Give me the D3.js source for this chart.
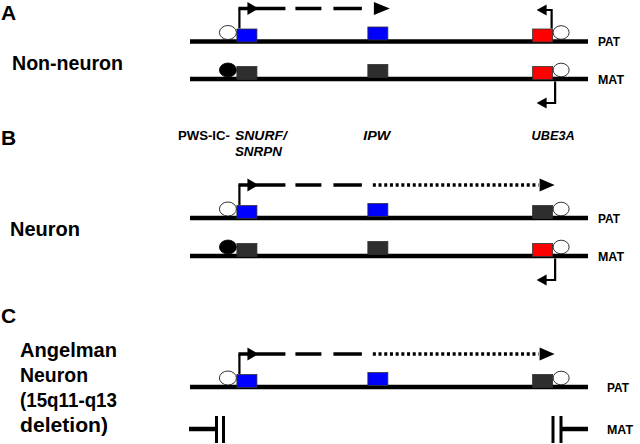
<!DOCTYPE html>
<html><head><meta charset="utf-8">
<script src="https://cdn.jsdelivr.net/npm/d3@7"></script>
<style>body{margin:0;background:#fff} svg{display:block}</style>
</head><body><svg id="c" width="640" height="444"></svg>
<script>
// ---------- data ----------
const panelIds = ["A", "B", "C"];
const panelTitles = [["Non-neuron"], ["Neuron"], ["Angelman", "Neuron", "(15q11-q13", "deletion)"]];
const alleles = ["PAT", "MAT"];
const genes = ["SNURF/SNRPN", "IPW", "UBE3A"];
const geneLocus = [14.3, 47.2, 88.6];            // relative position along region (%)
const geneLabels = ["SNURF/", "IPW", "UBE3A"];
// expression state per gene: 1 expressed, 0 silent ; null = allele deleted
const patExpression = [[1, 1, 1], [1, 1, 0], [1, 1, 0]];
const matExpression = [[0, 0, 1], [0, 0, 1], null];
// PWS-IC methylation: 1 methylated (filled), 0 unmethylated (open)
const patIcMethyl = [0, 0, 0];
const matIcMethyl = [1, 1, null];
// SNURF transcript extent
const snurfTranscriptEnd = ["IPW", "UBE3A", "UBE3A"];
// UBE3A sense transcript present
const patUbeTranscript = [1, 0, 0];
const matUbeTranscript = [1, 1, null];

// ---------- layout ----------
const svg = d3.select("#c");
const x = d3.scaleLinear().domain([0, 100]).range([190, 588]);
const rowY = d3.scaleOrdinal()
  .domain(["A-PAT", "A-MAT", "B-PAT", "B-MAT", "C-PAT", "C-MAT"])
  .range([41.5, 79, 218, 256, 387, 429]);
const letterY = d3.scaleOrdinal().domain(panelIds).range([20, 145, 323]);
const titleLayout = { A: { x: 12, y: 70 }, B: { x: 10, y: 236 }, C: { x: 20, y: 357 } };
const titleWidths = [[111], [70], [97, 68, 97, 88]];
const alleleLabelX = d3.scaleOrdinal().domain(panelIds).range([598, 598, 607]);
const alleleLabelW = { PAT: 22, MAT: 26 };
const expressedColor = ["#0000ff", "#0000ff", "#ff0000"];
const silentColor = "#2e2e2e";
const FONT = "'Liberation Sans', Arial, Helvetica, sans-serif";
const boxW = 20, boxH = 13;

function arrowHead(g, tipX, y, dir, len, half) {
  const b = tipX - dir * len;
  g.append("path")
    .attr("d", `M${tipX},${y}L${b},${y - half}L${b},${y + half}Z`)
    .attr("fill", "#000");
}
function fit(sel, w) {
  return sel.attr("textLength", w).attr("lengthAdjust", "spacingAndGlyphs");
}

// panel letters
svg.selectAll("text.letter").data(panelIds).join("text")
  .attr("class", "letter")
  .attr("x", 1).attr("y", d => letterY(d))
  .attr("font-family", FONT).attr("font-weight", "bold").attr("font-size", 21)
  .text(d => d);

// panel titles
panelIds.forEach((p, i) => {
  const t = titleLayout[p];
  svg.append("g").selectAll("text").data(panelTitles[i]).join("text")
    .attr("x", t.x).attr("y", (d, j) => t.y + j * 25)
    .attr("font-family", FONT).attr("font-weight", "bold").attr("font-size", 19.5)
    .attr("textLength", (d, j) => titleWidths[i][j]).attr("lengthAdjust", "spacingAndGlyphs")
    .text(d => d);
});

// gene labels (panel B header)
const lab = svg.append("g").attr("font-family", FONT).attr("font-weight", "bold").attr("font-size", 12.5);
fit(lab.append("text").attr("x", x(geneLocus[0]) - 69).attr("y", 140).text("PWS-IC-"), 52);
fit(lab.append("text").attr("x", x(geneLocus[0]) - 12).attr("y", 140).attr("font-style", "italic").text(geneLabels[0]), 52);
fit(lab.append("text").attr("x", x(geneLocus[0]) - 12).attr("y", 156).attr("font-style", "italic").text("SNRPN"), 47);
fit(lab.append("text").attr("x", x(geneLocus[1]) - 14.5).attr("y", 140).attr("font-style", "italic").text(geneLabels[1]), 27);
fit(lab.append("text").attr("x", x(geneLocus[2]) - 11).attr("y", 140).attr("font-style", "italic").text(geneLabels[2]), 43);

// ---------- alleles ----------
panelIds.forEach((p, pi) => {
  alleles.forEach(a => {
    const y = rowY(p + "-" + a);
    const expr = a === "PAT" ? patExpression[pi] : matExpression[pi];
    const g = svg.append("g");
    fit(g.append("text").attr("x", alleleLabelX(p)).attr("y", y + 4.5)
      .attr("font-family", FONT).attr("font-weight", "bold").attr("font-size", 12)
      .text(a), alleleLabelW[a]);

    if (expr === null) {
      g.append("line").attr("x1", x(0) - 1).attr("x2", x(0) + 25).attr("y1", y).attr("y2", y)
        .attr("stroke", "#000").attr("stroke-width", 4.5);
      [26.5, 33.5].forEach(o => g.append("line").attr("x1", x(0) + o).attr("x2", x(0) + o)
        .attr("y1", y - 13).attr("y2", y + 14).attr("stroke", "#000").attr("stroke-width", 3));
      g.append("line").attr("x1", x(100) - 26).attr("x2", x(100)).attr("y1", y).attr("y2", y)
        .attr("stroke", "#000").attr("stroke-width", 4.5);
      [-35, -27].forEach(o => g.append("line").attr("x1", x(100) + o).attr("x2", x(100) + o)
        .attr("y1", y - 13).attr("y2", y + 14).attr("stroke", "#000").attr("stroke-width", 3));
      return;
    }

    g.append("line").attr("x1", x(0)).attr("x2", x(100)).attr("y1", y).attr("y2", y)
      .attr("stroke", "#000").attr("stroke-width", 4.5);

    g.selectAll("rect").data(genes).join("rect")
      .attr("x", (d, i) => x(geneLocus[i]) - boxW / 2)
      .attr("y", (d, i) => y - boxH + 0.5 - (i === 1 ? 2 : 0))
      .attr("width", boxW).attr("height", boxH)
      .attr("fill", (d, i) => expr[i] ? expressedColor[i] : silentColor)
      .attr("stroke", (d, i) => expr[i] ? "#333" : silentColor).attr("stroke-width", 0.8);

    const meth = a === "PAT" ? patIcMethyl[pi] : matIcMethyl[pi];
    const sx = x(geneLocus[0]) - boxW / 2;
    g.append("ellipse").attr("cx", sx - 9).attr("cy", y - 9).attr("rx", 8.5).attr("ry", 7)
      .attr("fill", meth ? "#000" : "#fff").attr("stroke", "#000").attr("stroke-width", 0.8);

    const ux = x(geneLocus[2]) + boxW / 2;
    g.append("ellipse").attr("cx", ux + 8.5).attr("cy", y - 9).attr("rx", 8).attr("ry", 6.8)
      .attr("fill", "#fff").attr("stroke", "#000").attr("stroke-width", 0.8);

    if (expr[0]) {
      const ax = sx + 2.5, ay = y - 33;
      g.append("path").attr("d", `M${ax},${y - boxH}V${ay}`)
        .attr("stroke", "#000").attr("stroke-width", 2.2).attr("fill", "none");
      const dashEnd = x(geneLocus[1]) - 16;
      g.append("line").attr("x1", ax - 1).attr("x2", dashEnd).attr("y1", ay).attr("y2", ay)
        .attr("stroke", "#000").attr("stroke-width", 3.5)
        .attr("stroke-dasharray", "47 10 26 12 29 20");
      arrowHead(g, ax + 19, ay, 1, 11, 6.5);
      if (snurfTranscriptEnd[pi] === "IPW") {
        arrowHead(g, x(geneLocus[1]) + 12, ay, 1, 16, 6.5);
      } else {
        g.append("line").attr("x1", x(geneLocus[1]) - 5).attr("x2", x(geneLocus[2]) - 4)
          .attr("y1", ay).attr("y2", ay)
          .attr("stroke", "#000").attr("stroke-width", 3.5)
          .attr("stroke-dasharray", "3 2.7");
        arrowHead(g, x(geneLocus[2]) + 12, ay, 1, 15, 6.5);
      }
    }

    const ubeT = a === "PAT" ? patUbeTranscript[pi] : matUbeTranscript[pi];
    if (ubeT) {
      const up = a === "PAT";
      const vx = up ? ux - 1 : ux + 2.5;
      const y0 = up ? y - boxH : y + 2.5;
      const y1 = up ? y - 31.5 : y + 24;
      g.append("path").attr("d", `M${vx},${y0}V${y1}H${x(geneLocus[2])}`)
        .attr("stroke", "#000").attr("stroke-width", 2.2).attr("fill", "none");
      arrowHead(g, x(geneLocus[2]) - 6, y1, -1, 10, 5.5);
    }
  });
});
</script>
</body></html>
